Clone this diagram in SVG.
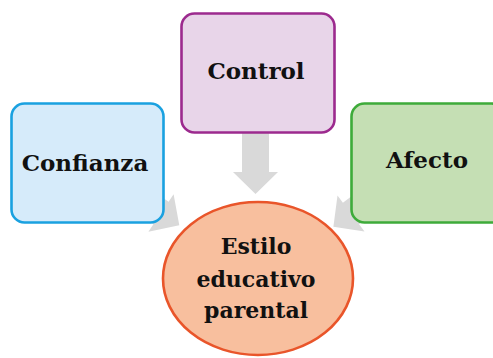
<svg xmlns="http://www.w3.org/2000/svg" width="493" height="358" viewBox="0 0 493 358">
<style>
.lbl{font-family:"DejaVu Serif","Liberation Serif",serif;font-weight:bold;font-size:23px;fill:#111;text-anchor:middle}
.lbl2{font-size:22px}
.arr{fill:#D9D9D9;stroke:none}
.box{stroke-width:2.6}
</style>
<rect width="493" height="358" fill="#ffffff"/>
<g id="connectors">
<polygon class="arr" points="242,120 269,120 269,172 278,172 255.5,194 233,172 242,172"/>
<polygon class="arr" points="118.6,167.8 168.6,201.8 173.6,194.3 179.3,225.3 148.4,231.7 153.4,224.2 103.4,190.2"/>
<polygon class="arr" points="390.9,166.7 342.9,202.7 337.5,195.5 333.4,226.7 364.5,231.5 359.1,224.3 407.1,188.3"/>
</g>
<g id="confianza">
<rect class="box" x="11.5" y="103.5" width="152" height="119" rx="13" fill="#D6EBFA" stroke="#1AA1E0"/>
<text class="lbl" x="85" y="171">Confianza</text>
</g>
<g id="control">
<rect class="box" x="181.5" y="13.5" width="153" height="119" rx="13" fill="#E8D5E9" stroke="#9C2A8E"/>
<text class="lbl" x="256" y="79">Control</text>
</g>
<g id="afecto">
<rect class="box" x="351.5" y="103.5" width="153" height="119" rx="13" fill="#C5DFB4" stroke="#3EAB3A"/>
<text class="lbl" x="427" y="168">Afecto</text>
</g>
<g id="estilo">
<ellipse cx="258" cy="278.5" rx="95" ry="76.5" fill="#F8BF9E" stroke="#E9552A" stroke-width="2.6"/>
<text class="lbl lbl2" x="256" y="254">Estilo</text>
<text class="lbl lbl2" x="256" y="287">educativo</text>
<text class="lbl lbl2" x="256" y="318">parental</text>
</g>
</svg>
